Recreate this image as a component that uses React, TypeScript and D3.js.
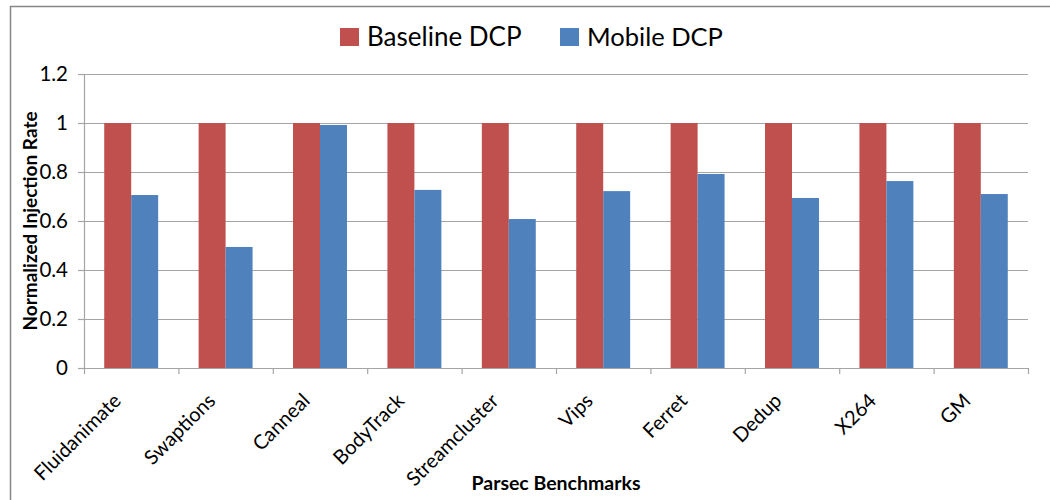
import React from "react";
import * as d3 from "d3";

const categories = ["Fluidanimate", "Swaptions", "Canneal", "BodyTrack", "Streamcluster", "Vips", "Ferret", "Dedup", "X264", "GM"];
const baselineDCP = [1, 1, 1, 1, 1, 1, 1, 1, 1, 1];
const mobileDCP = [0.706, 0.494, 0.992, 0.727, 0.608, 0.722, 0.792, 0.694, 0.763, 0.71];
const yTicks = [0, 0.2, 0.4, 0.6, 0.8, 1, 1.2];
const seriesNames = ["Baseline DCP", "Mobile DCP"];
const colors = ["#C0504D", "#4F81BD"];

const W = 1050, H = 500;
const left = 84, right = 1028, top = 74, bottom = 368;
const FONT = "Lato, 'Open Sans', sans-serif";

export default function App() {
  const x = d3.scaleBand<string>().domain(categories).range([left, right]).paddingInner(0).paddingOuter(0);
  const inner = d3.scaleBand<string>().domain(seriesNames).range([0, x.bandwidth()]).paddingInner(0).paddingOuter(0.75);
  const y = d3.scaleLinear().domain([0, 1.2]).range([bottom, top]);
  const series = [baselineDCP, mobileDCP];
  const fmt = (v: number) => (v === 0 ? "0" : d3.format("")(+v.toFixed(1)));
  const bounds = [...categories.map((c) => x(c)!), right];

  return (
    <svg width={W} height={H} style={{ position: "absolute", left: 0, top: 0, background: "#fff" }} fontFamily={FONT}>
      <rect x={10.5} y={6.5} width={1100} height={600} fill="none" stroke="#868686" strokeWidth={1.5} />
      {/* gridlines */}
      {yTicks.map((t) => (
        <line key={"g" + t} x1={left} x2={right} y1={Math.round(y(t)) + 0.5} y2={Math.round(y(t)) + 0.5} stroke="#A5A5A5" strokeWidth={1.2} />
      ))}
      {/* y axis */}
      <line x1={left + 0.5} x2={left + 0.5} y1={top} y2={bottom} stroke="#A5A5A5" strokeWidth={1.2} />
      {yTicks.map((t) => (
        <g key={"yt" + t}>
          <line x1={left - 6} x2={left} y1={Math.round(y(t)) + 0.5} y2={Math.round(y(t)) + 0.5} stroke="#A5A5A5" strokeWidth={1.2} />
          <text x={68} y={y(t)} dy="0.36em" textAnchor="end" fontSize={20.5} fill="#000">
            {fmt(t)}
          </text>
        </g>
      ))}
      {/* bars */}
      {categories.map((c, i) => (
        <g key={c}>
          {series.map((s, j) => (
            <rect
              key={j}
              x={x(c)! + inner(seriesNames[j])!}
              width={inner.bandwidth()}
              y={y(s[i])}
              height={y(0) - y(s[i])}
              fill={colors[j]}
            />
          ))}
        </g>
      ))}
      {/* x axis */}
      <line x1={left} x2={right} y1={bottom + 0.5} y2={bottom + 0.5} stroke="#A5A5A5" strokeWidth={1.2} />
      {bounds.map((b, i) => (
        <line key={"xt" + i} x1={b + 0.5} x2={b + 0.5} y1={bottom} y2={bottom + 6} stroke="#A5A5A5" strokeWidth={1.2} />
      ))}
      {categories.map((c) => {
        const cx = x(c)! + x.bandwidth() / 2;
        return (
          <text key={"xl" + c} transform={`translate(${cx - 9},${402}) rotate(-45)`} textAnchor="end" fontSize={20} fill="#000">
            {c}
          </text>
        );
      })}
      {/* axis titles */}
      <text transform={`translate(37,${(top + bottom) / 2}) rotate(-90)`} textAnchor="middle" fontSize={19} fontWeight="bold" fill="#000">
        Normalized Injection Rate
      </text>
      <text x={(left + right) / 2} y={490} textAnchor="middle" fontSize={19.5} fontWeight="bold" fill="#000">
        Parsec Benchmarks
      </text>
      {/* legend */}
      <rect x={340} y={28} width={19} height={18} fill={colors[0]} />
      <text x={367} y={46} fontSize={26} fill="#000">{seriesNames[0]}</text>
      <rect x={560} y={28} width={19} height={18} fill={colors[1]} />
      <text x={587} y={46} fontSize={25.5} fill="#000">{seriesNames[1]}</text>
    </svg>
  );
}
